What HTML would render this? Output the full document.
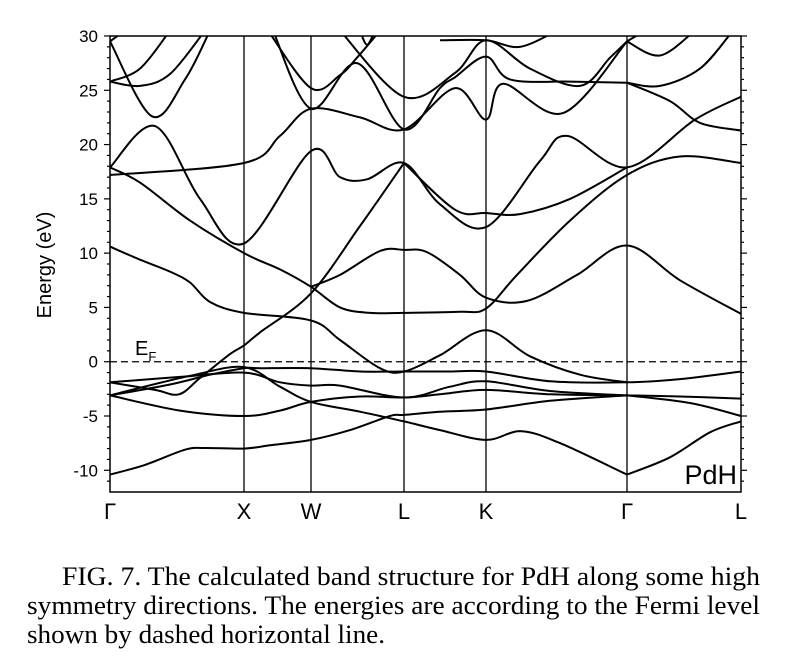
<!DOCTYPE html>
<html><head><meta charset="utf-8"><style>
body{margin:0;background:#fff;}
svg{display:block;}
</style></head><body>
<div style="position:relative;width:786px;height:663px;overflow:hidden">
<svg id="chart" width="786" height="663">
<g font-family="Liberation Serif, serif" font-size="26.5" fill="#000">
<text x="62" y="585" textLength="698" lengthAdjust="spacingAndGlyphs">FIG. 7. The calculated band structure for PdH along some high</text>
<text x="27" y="614" textLength="733" lengthAdjust="spacingAndGlyphs">symmetry directions. The energies are according to the Fermi level</text>
<text x="27" y="643" textLength="358" lengthAdjust="spacingAndGlyphs">shown by dashed horizontal line.</text>
</g>
</svg>
</div>
<script>
const kLabels=["Γ","X","W","L","K","Γ","L"];
const kTicks=[0,1.34,2.01,2.94,3.76,5.17,6.31];
const yTicks=[30,25,20,15,10,5,0,-5,-10];
const fermiLevel=0;
const band1=[[0,-10.4],[0.35,-9.5],[0.75,-8.1],[0.95,-7.95],[1.34,-8.0],[1.6,-7.7],[2.01,-7.2],[2.4,-6.3],[2.8,-5.0],[2.94,-4.9],[3.3,-4.6],[3.76,-4.4],[4.4,-3.6],[5.17,-3.1]];
const band2=[[5.17,-10.4],[5.6,-8.8],[6.0,-6.5],[6.31,-5.5]];
const band3=[[0,-3.1],[0.7,-4.5],[1.34,-5.0],[1.7,-4.5],[2.01,-3.7],[2.5,-3.2],[2.94,-3.3],[3.3,-3.0],[3.76,-2.6],[4.4,-3.0],[5.17,-3.1],[5.7,-3.2],[6.31,-3.4]];
const band4=[[5.17,-3.1],[5.8,-3.8],[6.31,-5.0]];
const band5=[[0,-3.1],[0.6,-2.1],[1.0,-1.2],[1.34,-0.6],[1.5,-0.6],[2.01,-0.6],[2.5,-0.9],[2.94,-0.9],[3.4,-0.9],[3.76,-0.9],[4.4,-1.8],[5.17,-1.9],[5.7,-1.6],[6.31,-0.9]];
const band6=[[0,-1.9],[0.7,-1.4],[1.34,-1.0],[1.7,-1.9],[2.01,-2.2],[2.3,-2.2],[2.94,-3.3],[3.4,-2.3],[3.76,-1.8],[4.4,-2.7],[5.17,-3.1]];
const band7=[[0,-3.1],[0.8,-1.3],[1.34,-0.5],[1.7,-2.3],[2.01,-3.7],[2.5,-4.6],[2.94,-5.5],[3.3,-6.3],[3.76,-7.2],[4.11,-6.4],[4.5,-7.5],[5.17,-10.4]];
const band8=[[0,-1.9],[0.45,-2.6],[0.69,-3.0],[0.9,-1.5],[1.2,0.7],[1.34,1.5],[1.5,2.7],[2.01,6.3],[2.5,12.5],[2.94,18.3]];
const band9=[[0,10.6],[0.3,9.4],[0.6,8.3],[0.8,7.3],[1.0,5.5],[1.34,4.5],[2.01,3.8],[2.3,2.0],[2.7,-0.6],[2.94,-0.9],[3.3,0.6],[3.76,2.9],[4.2,0.5],[4.7,-1.2],[5.17,-1.9]];
const band10=[[0,17.9],[0.3,16.5],[0.8,13],[1.34,10.0],[1.7,8.5],[2.01,6.9],[2.3,5.0],[2.6,4.5],[2.94,4.5],[3.5,4.6],[3.76,4.9],[4.07,8.0],[4.6,13],[5.17,17.2],[5.7,18.9],[6.31,18.3]];
const band11=[[2.01,6.9],[2.3,8.0],[2.7,10.2],[2.94,10.3],[3.17,10.1],[3.5,8.0],[3.76,5.9],[4.17,5.6],[4.67,8.0],[5.17,10.7],[5.7,7.5],[6.31,4.4]];
const band12=[[0,17.9],[0.45,21.7],[0.9,15],[1.34,10.9],[2.01,19.4],[2.3,17.0],[2.57,16.8],[2.94,18.3],[3.3,14.5],[3.76,12.4],[4.3,18.5],[4.57,20.8],[5.17,17.9],[5.85,22.3],[6.31,24.4]];
const band13=[[0,17.2],[1.34,18.3],[1.7,20.8],[2.01,23.3],[2.5,22.5],[2.94,21.4],[3.45,25.2],[3.76,22.3],[3.93,25.6],[4.53,22.9],[5.17,29.5]];
const band14=[[2.94,18.3],[3.45,14.0],[3.76,13.7],[4.1,13.6],[4.6,15],[5.17,17.9]];
const band15=[[5.17,25.7],[5.6,24],[5.9,22],[6.31,21.3]];
const band16=[[5.17,25.7],[5.5,25.4],[5.9,27],[6.23,30.5]];
const band17=[[5.17,29.5],[5.5,28.2],[5.85,30.5]];
const band18=[[5.17,29.5],[5.35,30.5]];
const band19=[[0,25.8],[0.3,25.4],[0.6,26.5],[0.95,30.5]];
const band20=[[0,29.5],[0.42,22.6],[0.75,26],[1.0,30.5]];
const band21=[[0,25.8],[0.3,27],[0.6,30.5]];
const band22=[[0,29.5],[0.15,30.5]];
const band23=[[1.58,30.5],[2.01,25.2],[2.3,26.4],[2.47,28],[2.7,30.5]];
const band24=[[1.63,30.5],[2.01,23.3],[2.47,27.5],[2.94,21.4],[3.3,25.2],[3.45,26.2],[3.76,28.1],[4.0,26],[4.6,25.8],[5.17,25.7]];
const band25=[[2.3,30.5],[2.94,24.4],[3.45,26.6],[3.76,29.6],[4.2,27],[4.7,25.4],[5.0,28],[5.17,29.5]];
const band26=[[2.5,30.5],[2.57,29.2],[2.65,30.5]];
const band27=[[3.3,29.6],[3.76,29.6],[4.1,29],[4.47,30.5]];
const bands=[band1,band2,band3,band4,band5,band6,band7,band8,band9,band10,band11,band12,band13,band14,band15,band16,band17,band18,band19,band20,band21,band22,band23,band24,band25,band26,band27];

const X0=110,X1=741,Y0=36,Y1=492,EMIN=-12,EMAX=30,KMAX=6.31;
const xs=k=>X0+(k/KMAX)*(X1-X0);
const ys=e=>Y1-(e-EMIN)/(EMAX-EMIN)*(Y1-Y0);
const NS="http://www.w3.org/2000/svg";
const svg=document.getElementById('chart');
function mk(t,a){const e=document.createElementNS(NS,t);for(const k in a)e.setAttribute(k,a[k]);return e;}
const defs=mk('defs',{});const cp=mk('clipPath',{id:'clip'});cp.appendChild(mk('rect',{x:X0,y:Y0,width:X1-X0,height:Y1-Y0}));defs.appendChild(cp);svg.appendChild(defs);
for(let e=-11;e<=30;e++){
  const major=e%5===0;const L=major?6:3;const y=ys(e);
  const t1=mk('line',{x1:X0-L,x2:X0,y1:y,y2:y,stroke:'#000','stroke-width':1.2});
  
  
  svg.appendChild(t1);
  const t2=mk('line',{x1:X1,x2:X1+L,y1:y,y2:y,stroke:'#000','stroke-width':1.2});
  
  
  svg.appendChild(t2);
}
yTicks.forEach(v=>{
  const t=mk('text',{x:98,y:ys(v)+6,'text-anchor':'end','font-family':'Liberation Sans, sans-serif','font-size':17});
  t.textContent=v;
  
  
  svg.appendChild(t);
});
kTicks.forEach((k,i)=>{
  if(i>0&&i<kTicks.length-1){
    const l=mk('line',{x1:xs(k),x2:xs(k),y1:Y0,y2:Y1,stroke:'#000','stroke-width':1.3});
    
    
    svg.appendChild(l);
  }
  const t=mk('text',{x:xs(k),y:519,'text-anchor':'middle','font-family':'Liberation Sans, sans-serif','font-size':22});
  t.textContent=kLabels[i];
  
  
  svg.appendChild(t);
});
const fl=mk('line',{x1:X0,x2:X1,y1:ys(fermiLevel),y2:ys(fermiLevel),stroke:'#000','stroke-width':1.3,'stroke-dasharray':'7,4'});


svg.appendChild(fl);
function smooth(pts){
  const p=pts.map(a=>[xs(a[0]),ys(a[1])]);
  let d='M'+p[0][0].toFixed(1)+','+p[0][1].toFixed(1);
  for(let i=0;i<p.length-1;i++){
    const p0=p[i>0?i-1:i],p1=p[i],p2=p[i+1],p3=p[i+2<p.length?i+2:i+1];
    const c1=[p1[0]+(p2[0]-p0[0])/6,p1[1]+(p2[1]-p0[1])/6];
    const c2=[p2[0]-(p3[0]-p1[0])/6,p2[1]-(p3[1]-p1[1])/6];
    d+=' C'+c1.map(v=>v.toFixed(1))+' '+c2.map(v=>v.toFixed(1))+' '+p2.map(v=>v.toFixed(1));
  }
  return d;
}
const g=mk('g',{'clip-path':'url(#clip)'});svg.appendChild(g);
bands.forEach(b=>{
  const path=mk('path',{d:smooth(b),fill:'none',stroke:'#000','stroke-width':2});
  
  
  g.appendChild(path);
});
const fr=mk('rect',{x:X0,y:Y0,width:X1-X0,height:Y1-Y0,fill:'none',stroke:'#000','stroke-width':1.5});


svg.appendChild(fr);
const ef=mk('text',{x:135,y:355,'font-family':'Liberation Sans, sans-serif','font-size':20});
ef.innerHTML='E<tspan font-size="13" dy="6">F</tspan>';


svg.appendChild(ef);
const pd=mk('text',{x:737,y:484,'text-anchor':'end','font-family':'Liberation Sans, sans-serif','font-size':27});
pd.textContent='PdH';


svg.appendChild(pd);
const yl=mk('text',{x:0,y:0,transform:'translate(51,265) rotate(-90)','text-anchor':'middle','font-family':'Liberation Sans, sans-serif','font-size':20});
yl.textContent='Energy (eV)';


svg.appendChild(yl);
</script>
</body></html>
